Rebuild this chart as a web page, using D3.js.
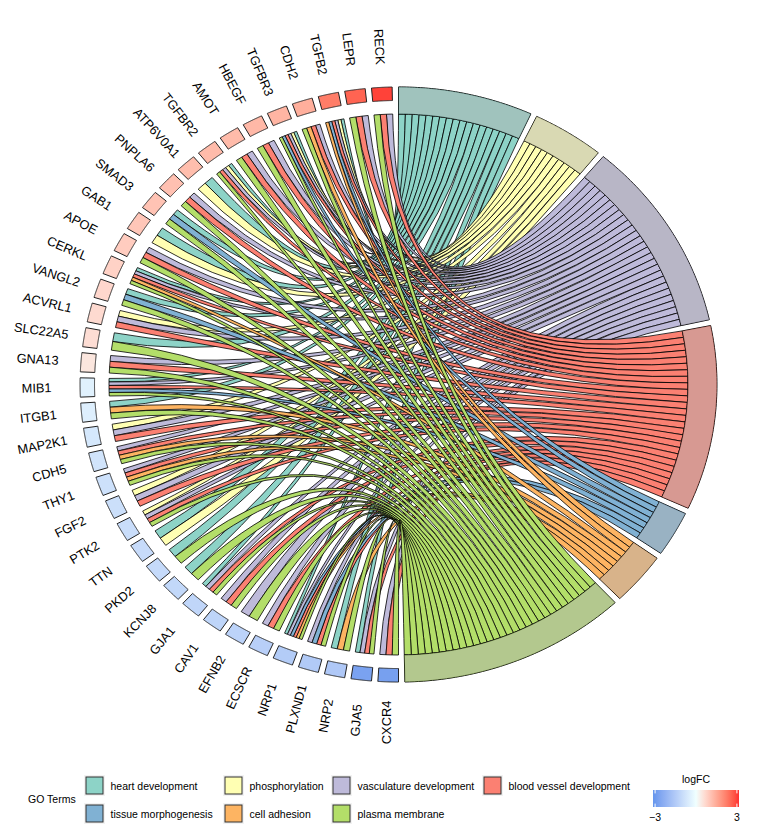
<!DOCTYPE html>
<html>
<head>
<meta charset="utf-8">
<script src="https://cdn.jsdelivr.net/npm/d3@7"></script>
<style>
  html, body { margin: 0; background: #fff; }
  text { font-family: "Liberation Sans", Arial, sans-serif; fill: #000; }
</style>
</head>
<body>
<script>
// GO terms, clockwise from the top
var terms = ["heart development", "phosphorylation", "vasculature development", "blood vessel development",
             "tissue morphogenesis", "cell adhesion", "plasma membrane"];
var termCodes = ["H", "Y", "V", "B", "T", "C", "P"];
var termColors = ["#8DD3C7", "#FFFFB3", "#BEBADA", "#FB8072", "#80B1D3", "#FDB462", "#B3DE69"];

// Genes, clockwise from the bottom
var genes = ["CXCR4", "GJA5", "NRP2", "PLXND1", "NRP1", "ECSCR", "EFNB2", "CAV1", "GJA1", "KCNJ8",
             "PKD2", "TTN", "PTK2", "FGF2", "THY1", "CDH5", "MAP2K1", "ITGB1", "MIB1", "GNA13",
             "SLC22A5", "ACVRL1", "VANGL2", "CERKL", "APOE", "GAB1", "SMAD3", "PNPLA6", "ATP6V0A1", "TGFBR2",
             "AMOT", "HBEGF", "TGFBR3", "CDH2", "TGFB2", "LEPR", "RECK"];
var logFC = [-2.75, -2.7, -1.55, -1.5, -1.45, -1.35, -1.25, -1.2, -1.15, -1.1,
             -1.05, -1.0, -0.95, -0.9, -0.85, -0.75, -0.65, -0.45, -0.4, 0.45,
             0.6, 0.65, 0.7, 0.8, 0.9, 1.0, 1.05, 1.1, 1.15, 1.2,
             1.2, 1.25, 1.3, 1.4, 2.2, 2.55, 2.95];
// Which terms each gene belongs to
var geneTerms = ["VBP", "HVBP", "HCP", "VTBP", "HVTBCP", "VBP", "VP", "VBP", "HVBP", "HP",
                 "HP", "HY", "YVBP", "YVB", "VBCP", "VBCP", "YVB", "HCP", "HVBTP", "VBP",
                 "HP", "YVB", "HTP", "HVBCP", "VBP", "HY", "HTP", "VBP", "HY", "HYVBP",
                 "VBP", "VBP", "HYVBTP", "VBCP", "HYVBTC", "VBP", "VBP"];
var legendRows = [[0, 1, 2, 3], [4, 5, 6]];
var barTicks = [-2.95, 2.95];

var width = 761, height = 828;
var space = 0.02;

// Plot is not square, so unit circle goes to an ellipse
var x = d3.scaleLinear().domain([0, 1]).range([398.5, 688]);
var y = d3.scaleLinear().domain([0, 1]).range([384.5, 114]);

var svg = d3.select("body").append("svg")
    .attr("width", width)
    .attr("height", height);

var color = d3.scaleLinear()
    .domain([-3.1, 0, 3.1])
    .range(["#6495ED", "#F0FFFF", "#FF3030"])
    .interpolate(d3.interpolateLab);

var line = d3.line()
    .x(function(d) { return x(d[0]); })
    .y(function(d) { return y(d[1]); });

function onCircle(a, r) {
    return [r * Math.sin(a), r * Math.cos(a)];
}

// Band between two radii
function band(a0, a1, r0, r1) {
    var steps = d3.range(0, 51).map(function(i) { return a0 + (a1 - a0) * i / 50; });
    var pts = steps.map(function(a) { return onCircle(a, r0); })
        .concat(steps.slice().reverse().map(function(a) { return onCircle(a, r1); }));
    return line(pts) + "Z";
}

// Term arc sizes come from the ribbon counts
var counts = termCodes.map(function(code) {
    return d3.sum(geneTerms, function(g) { return g.indexOf(code) >= 0 ? 1 : 0; });
});
var total = d3.sum(counts);
var termStart = [0];
counts.forEach(function(c, i) { termStart.push(termStart[i] + Math.PI * c / total); });

var geneStep = Math.PI / genes.length;
var geneAngle = function(i) { return -Math.PI + i * geneStep; };

// One ribbon per gene/term pair
var ribbons = [];
termCodes.forEach(function(code, t) {
    var w = (Math.PI * counts[t] / total - space) / counts[t];
    var members = d3.range(genes.length).filter(function(g) { return geneTerms[g].indexOf(code) >= 0; });
    // top gene lands on the first slot of the term
    members.reverse().forEach(function(g, k) {
        var codes = geneTerms[g];
        var n = codes.length;
        var slot = n - 1 - codes.indexOf(code);
        var gw = (geneStep - space) / n;
        ribbons.push({
            term: t,
            s0: termStart[t] + k * w,
            s1: termStart[t] + (k + 1) * w,
            e0: geneAngle(g) + (slot + 1) * gw,
            e1: geneAngle(g) + slot * gw
        });
    });
});

function ribbonPath(d) {
    var p = d3.path();
    var a = onCircle(d.s0, 1), b = onCircle(d.e0, 1), c = onCircle(d.e1, 1), e = onCircle(d.s1, 1);
    p.moveTo(x(a[0]), y(a[1]));
    p.quadraticCurveTo(x(0), y(0), x(b[0]), y(b[1]));
    p.lineTo(x(c[0]), y(c[1]));
    p.quadraticCurveTo(x(0), y(0), x(e[0]), y(e[1]));
    p.closePath();
    return p.toString();
}

svg.append("g")
    .selectAll("path")
    .data(ribbons)
    .enter().append("path")
        .attr("d", ribbonPath)
        .attr("fill", function(d) { return termColors[d.term]; })
        .attr("stroke", "#000")
        .attr("stroke-width", 0.8);

// Term bands: grey below, half transparent colour on top
var termBands = svg.append("g")
    .selectAll("g")
    .data(terms)
    .enter().append("g");

termBands.append("path")
    .attr("d", function(d, i) { return band(termStart[i], termStart[i + 1] - space, 1, 1.1); })
    .attr("fill", "#B3B3B3")
    .attr("stroke", "#000")
    .attr("stroke-width", 1);

termBands.append("path")
    .attr("d", function(d, i) { return band(termStart[i], termStart[i + 1] - space, 1, 1.1); })
    .attr("fill", function(d, i) { return termColors[i]; })
    .attr("fill-opacity", 0.5);

// Gene cells
svg.append("g")
    .selectAll("path")
    .data(genes)
    .enter().append("path")
        .attr("d", function(d, i) { return band(geneAngle(i), geneAngle(i) + geneStep - space, 1.05, 1.1); })
        .attr("fill", function(d, i) { return color(logFC[i]); })
        .attr("stroke", "#222")
        .attr("stroke-width", 1);

// Gene labels, turned from -90 at the bottom to 90 at the top
svg.append("g")
    .selectAll("text")
    .data(genes)
    .enter().append("text")
        .attr("transform", function(d, i) {
            var p = onCircle(geneAngle(i) + (geneStep - space) / 2, 1.25);
            return "translate(" + x(p[0]) + "," + y(p[1]) + ") rotate(" + (-90 + 177 * i / (genes.length - 1)) + ")";
        })
        .attr("text-anchor", "middle")
        .attr("dominant-baseline", "central")
        .attr("font-size", 12.8)
        .text(function(d) { return d; });

// Legend
var legend = svg.append("g").attr("font-size", 10.5);
legend.append("text")
    .attr("x", 28)
    .attr("y", 803)
    .text("GO Terms");

var keyX = [86, 225, 333, 484];
var rowY = [777, 805];
legendRows.forEach(function(row, r) {
    row.forEach(function(t, c) {
        var g = legend.append("g").attr("transform", "translate(" + keyX[c] + "," + rowY[r] + ")");
        g.append("rect")
            .attr("x", -2).attr("y", -2).attr("width", 21).attr("height", 21)
            .attr("fill", "#F2F2F2");
        g.append("rect")
            .attr("width", 17).attr("height", 17)
            .attr("fill", termColors[t])
            .attr("stroke", "#333")
            .attr("stroke-width", 1);
        g.append("text")
            .attr("x", 24.5)
            .attr("y", 12.5)
            .text(terms[t]);
    });
});

// logFC colour bar
var bar = d3.scaleLinear().domain([-3.1, 3.1]).range([653, 739]);
var grad = svg.append("defs").append("linearGradient")
    .attr("id", "lfc");
d3.range(0, 21).forEach(function(i) {
    var v = -3.1 + 6.2 * i / 20;
    grad.append("stop")
        .attr("offset", (i * 5) + "%")
        .attr("stop-color", color(v));
});
svg.append("rect")
    .attr("x", bar.range()[0])
    .attr("y", 790)
    .attr("width", bar.range()[1] - bar.range()[0])
    .attr("height", 17)
    .attr("fill", "url(#lfc)");

svg.append("g")
    .selectAll("line")
    .data(barTicks.concat(barTicks))
    .enter().append("line")
        .attr("x1", function(d) { return bar(d); })
        .attr("x2", function(d) { return bar(d); })
        .attr("y1", function(d, i) { return i < 2 ? 790 : 803.6; })
        .attr("y2", function(d, i) { return i < 2 ? 793.4 : 807; })
        .attr("stroke", "#fff")
        .attr("stroke-width", 1);

svg.append("g")
    .selectAll("text")
    .data(barTicks)
    .enter().append("text")
        .attr("x", function(d) { return bar(d); })
        .attr("y", 821)
        .attr("text-anchor", "middle")
        .attr("font-size", 10.5)
        .text(function(d) { return d < 0 ? "\u2212" + Math.round(-d) : Math.round(d); });

svg.append("text")
    .attr("x", 696)
    .attr("y", 783)
    .attr("text-anchor", "middle")
    .attr("font-size", 10.5)
    .text("logFC");
</script>
</body>
</html>
